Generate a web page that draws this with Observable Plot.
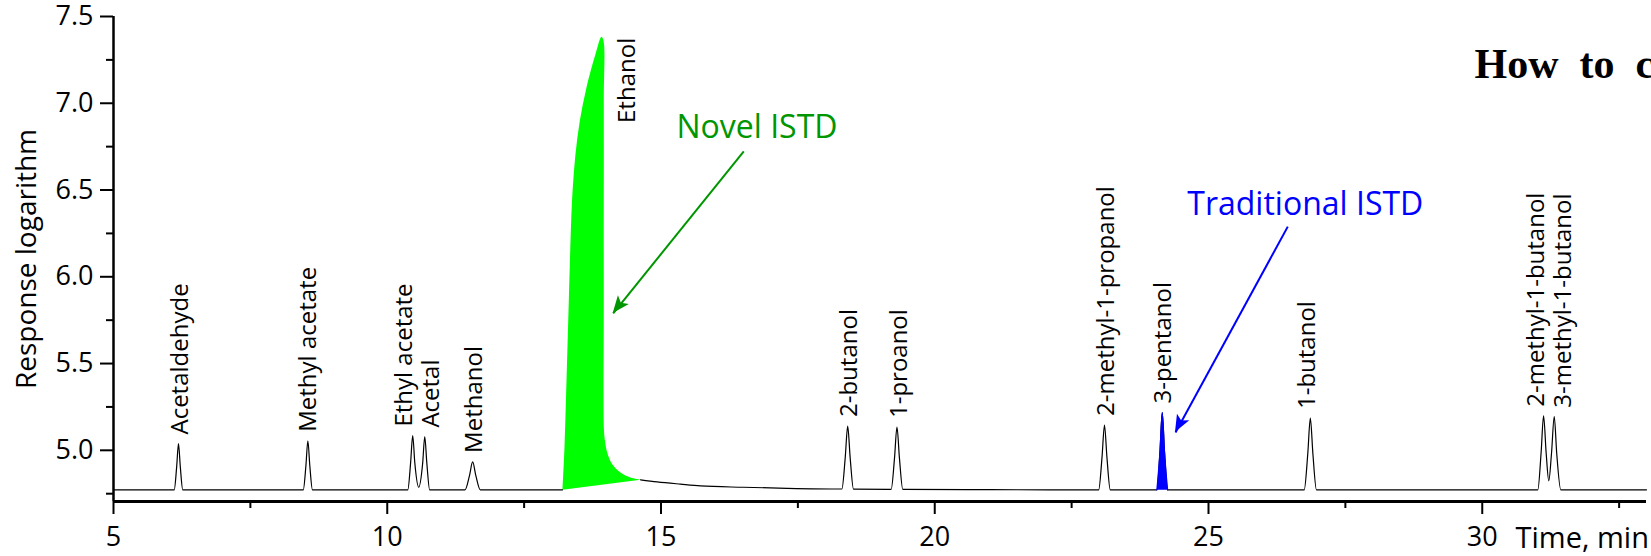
<!DOCTYPE html>
<html><head><meta charset="utf-8">
<script src="https://cdn.jsdelivr.net/npm/d3@7"></script>
<script src="https://cdn.jsdelivr.net/npm/@observablehq/plot@0.6"></script>
<style>html,body{margin:0;padding:0;background:#fff;} #chart svg{display:block;}</style>
</head><body><div id="chart"></div>
<script>
// ---- peaks (retention time in min, apex response logarithm) ----
const peakNames = ["Acetaldehyde","Methyl acetate","Ethyl acetate","Acetal","Methanol","Ethanol","2-butanol","1-proanol","2-methyl-1-propanol","3-pentanol","1-butanol","2-methyl-1-butanol","3-methyl-1-butanol"];
const peakTimes = [6.187, 8.55, 10.465, 10.685, 11.56, 13.913, 18.41, 19.31, 23.10, 24.155, 26.86, 31.12, 31.315];
const peakApex  = [5.039, 5.055, 5.085, 5.079, 4.933, 7.383, 5.140, 5.134, 5.146, 5.218, 5.186, 5.199, 5.194];

// ---- chromatogram trace (NaN = gap under the ethanol fill) ----
const traceTime = [5.000, 6.109, 6.154, 6.187, 6.220, 6.265, 8.466, 8.515, 8.550, 8.585, 8.634,
  10.375, 10.427, 10.465, 10.503, 10.575, 10.647, 10.685, 10.723, 10.775,
  11.420, 11.501, 11.560, 11.619, 11.700, 13.201, 13.600,
  14.626, 14.930, 15.356, 15.721, 16.500, 17.300,
  18.304, 18.365, 18.410, 18.455, 18.516, 19.204, 19.265, 19.310, 19.355, 19.416, 21.000,
  22.994, 23.055, 23.100, 23.145, 23.206, 24.057, 24.114, 24.155, 24.196, 24.253,
  26.748, 26.813, 26.860, 26.907, 26.972,
  31.015, 31.075, 31.120, 31.167, 31.215, 31.265, 31.315, 31.360, 31.435, 33.000];
const traceResp = [4.772, 4.772, 4.906, 5.039, 4.906, 4.772, 4.772, 4.914, 5.055, 4.914, 4.772,
  4.772, 4.929, 5.085, 4.929, 4.787, 4.926, 5.079, 4.926, 4.772,
  4.772, 4.853, 4.933, 4.853, 4.772, 4.772, NaN,
  4.830, 4.818, 4.805, 4.795, 4.787, 4.781,
  4.777, 4.958, 5.140, 4.958, 4.776, 4.775, 4.955, 5.134, 4.955, 4.775, 4.773,
  4.772, 4.959, 5.146, 4.959, 4.772, 4.772, 4.995, 5.218, 4.995, 4.772,
  4.772, 4.979, 5.186, 4.979, 4.772,
  4.772, 4.986, 5.199, 4.986, 4.824, 4.983, 5.194, 4.983, 4.772, 4.772];

// ---- ethanol (novel ISTD) filled outline ----
const ethanolTime = [13.201, 13.237, 13.274, 13.316, 13.360, 13.389, 13.438, 13.517, 13.639, 13.804, 13.913,
  13.950, 13.955, 13.955, 13.959, 13.977, 14.017, 14.109, 14.260, 14.443, 14.626];
const ethanolResp = [4.772, 5.016, 5.401, 5.862, 6.323, 6.515, 6.707, 6.899, 7.091, 7.284, 7.383,
  7.360, 7.014, 5.862, 5.112, 5.055, 4.987, 4.920, 4.872, 4.843, 4.830];

// ---- callouts ----
const calloutText = ["Novel ISTD", "Traditional ISTD"];
const calloutTime = [16.753, 26.768];
const calloutResp = [6.800, 6.356];
const calloutColor = ["#009600", "#0000ff"];
const arrowFromTime = [16.512, 26.448];
const arrowFromResp = [6.723, 6.289];
const arrowToTime = [14.127, 24.397];
const arrowToResp = [5.789, 5.103];

// ---- axes ----
const xMajor = [5, 10, 15, 20, 25, 30];
const xMinor = [7.5, 12.5, 17.5, 22.5, 27.5, 32.5];
const yMajor = [5.0, 5.5, 6.0, 6.5, 7.0, 7.5];
const yMinor = [4.75, 5.25, 5.75, 6.25, 6.75, 7.25];
const xLabel = "Time, min";
const yLabel = "Response logarithm";
const titleText = "How\u00a0\u00a0to\u00a0\u00a0c";

// ---- tables ----
const peaks = peakNames.map((name, i) => ({name, t: peakTimes[i], r: peakApex[i]}));
const trace = traceTime.map((t, i) => ({t, r: traceResp[i]}));
const pentanol = trace.filter(d => d.t >= 24.05 && d.t <= 24.26);
const ethanol = ethanolTime.map((t, i) => ({t, r: ethanolResp[i]}));
const callouts = calloutText.map((s, i) => ({s, t: calloutTime[i], r: calloutResp[i], c: calloutColor[i]}));
const arrows = arrowToTime.map((t, i) => ({t1: arrowFromTime[i], r1: arrowFromResp[i], t2: t, r2: arrowToResp[i], c: calloutColor[i]}));

// label nudges (px)
const nudge = {"Ethyl acetate": -8, "Acetal": 7, "Methyl acetate": 0, "1-butanol": -3, "2-methyl-1-butanol": -7, "3-methyl-1-butanol": 9, "3-pentanol": 1};
const normalPeaks = peaks.filter(d => d.name !== "Ethanol");
const groups = d3.groups(normalPeaks, d => nudge[d.name] ?? 2);
const labelMarks = groups.map(([dx, arr]) => Plot.text(arr, {
  x: "t", y: "r", text: "name", rotate: -90, textAnchor: "start", lineAnchor: "middle",
  dx, dy: -9, fontSize: 24, fill: "black"
}));

function arrowHeads(index, scales) {
  const ns = "http://www.w3.org/2000/svg";
  const g = document.createElementNS(ns, "g");
  for (const a of arrows) {
    const x1 = scales.x(a.t1), y1 = scales.y(a.r1), x2 = scales.x(a.t2), y2 = scales.y(a.r2);
    const ang = Math.atan2(y2 - y1, x2 - x1);
    const c = Math.cos(ang), s = Math.sin(ang);
    const L = 17, W = 7, N = 4;
    const bx = x2 - L * c, by = y2 - L * s;
    const nx = x2 - (L - N) * c, ny = y2 - (L - N) * s;
    const p = [[x2, y2], [bx - W * s, by + W * c], [nx, ny], [bx + W * s, by - W * c]];
    const path = document.createElementNS(ns, "path");
    path.setAttribute("d", "M" + p.map(q => q.join(",")).join("L") + "Z");
    path.setAttribute("fill", a.c);
    g.appendChild(path);
  }
  return g;
}

const chart = Plot.plot({
  width: 1651, height: 556,
  marginLeft: 113, marginRight: 5, marginTop: 16, marginBottom: 55,
  style: {fontFamily: "'Open Sans', sans-serif", background: "#fff", color: "black"},
  x: {domain: [5, 33]},
  y: {domain: [4.705, 7.5]},
  marks: [
    Plot.line(ethanol, {x: "t", y: "r", fill: "#00ff00", stroke: "none", curve: "catmull-rom"}),
    Plot.line(trace, {x: "t", y: "r", stroke: "black", strokeWidth: 1.2, curve: "monotone-x"}),
    Plot.line(pentanol, {x: "t", y: "r", fill: "#0000ff", stroke: "#0000ff", strokeWidth: 1.2, curve: "monotone-x"}),
    Plot.ruleX([5], {strokeWidth: 2.5}),
    Plot.ruleY([4.705], {strokeWidth: 3}),
    Plot.axisX(xMajor, {tickSize: 13, tickPadding: 12, strokeWidth: 2, fontSize: 27, label: null}),
    Plot.axisX(xMinor, {tickSize: 7, tickFormat: () => "", strokeWidth: 2, label: null}),
    Plot.axisY(yMajor, {tickSize: 13, tickPadding: 7, strokeWidth: 2, fontSize: 27, tickFormat: d3.format(".1f"), label: null}),
    Plot.axisY(yMinor, {tickSize: 7, tickFormat: () => "", strokeWidth: 2, label: null}),
    ...labelMarks,
    Plot.text(peaks.filter(d => d.name === "Ethanol"), {x: "t", y: "r", text: "name", rotate: -90, textAnchor: "end", lineAnchor: "middle", dx: 26, dy: 1, fontSize: 24}),
    Plot.link(arrows, {x1: "t1", y1: "r1", x2: "t2", y2: "r2", stroke: "c", strokeWidth: 2}),
    arrowHeads,
    Plot.text(callouts, {x: "t", y: "r", text: "s", fill: "c", textAnchor: "middle", lineAnchor: "bottom", fontSize: 32}),
    Plot.text([yLabel], {frameAnchor: "left", rotate: -90, textAnchor: "middle", lineAnchor: "bottom", dx: -77.5, fontSize: 28}),
    Plot.text([xLabel], {frameAnchor: "bottom-right", textAnchor: "start", lineAnchor: "bottom", dx: -131, dy: 46, fontSize: 29}),
    Plot.text([titleText], {frameAnchor: "top-right", textAnchor: "start", lineAnchor: "bottom", dx: -172, dy: 61, fontSize: 42, fontWeight: "bold", fontFamily: "'Liberation Serif', 'Times New Roman', serif"})
  ]
});
document.getElementById("chart").appendChild(chart);
</script></body></html>
